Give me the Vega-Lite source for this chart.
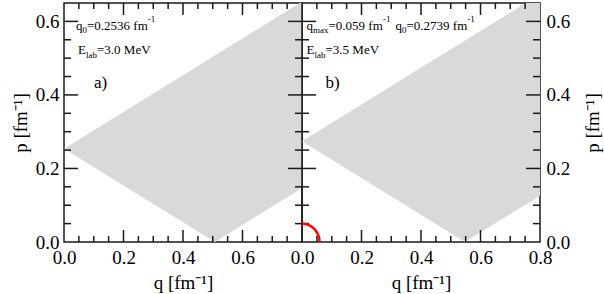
{
  "$schema": "https://vega.github.io/schema/vega-lite/v6.json",
  "background": "white",
  "padding": {"left": 10, "top": 1, "right": 2, "bottom": 2},
  "spacing": 0,
  "bounds": "flush",
  "config": {
    "view": {"stroke": "#1a1a1a", "strokeWidth": 1.5},
    "font": "Liberation Serif",
    "text": {"font": "Liberation Serif", "fontWeight": "normal", "color": "black"},
    "rule": {"color": "#1a1a1a", "strokeWidth": 1.5},
    "axis": {
      "grid": false, "domain": false, "labelFlush": false, "labelOverlap": false,
      "labelFont": "Liberation Serif", "labelFontSize": 19, "labelColor": "black",
      "titleFont": "Liberation Serif", "titleFontSize": 19, "titleFontWeight": "normal", "titleColor": "black",
      "tickColor": "#1a1a1a", "tickWidth": 1.5, "minExtent": 0
    }
  },
  "hconcat": [
    {
      "width": 238, "height": 239,
      "data": {"values": [
        {"q": 0, "hi": 0.2536, "lo": 0.2536},
        {"q": 0.5072, "hi": 0.5072, "lo": 0},
        {"q": 0.8, "hi": 0.6536, "lo": 0.1464}
      ]},
      "resolve": {"axis": {"x": "independent", "y": "independent"}},
      "layer": [
        {"mark": {"type": "area", "color": "#d9d9d9", "clip": true},
         "encoding": {
           "x": {"field": "q", "type": "quantitative", "scale": {"domain": [0, 0.8], "nice": false, "zero": false},
                 "axis": {"orient": "bottom", "values": [0, 0.2, 0.4, 0.6], "format": ".1f", "ticks": false, "tickSize": 0, "labelPadding": 6, "title": "q [fm⁻¹]", "titleFontWeight": "normal", "titlePadding": 6}},
           "y": {"field": "hi", "type": "quantitative", "scale": {"domain": [0, 0.65], "nice": false, "zero": false},
                 "axis": {"orient": "left", "values": [0, 0.2, 0.4, 0.6], "format": ".1f", "ticks": false, "tickSize": 0, "labelPadding": 5, "title": "p [fm⁻¹]", "titleFontWeight": "normal", "titlePadding": 5}},
           "y2": {"field": "lo"}
         }},
        {"data": {"values": [{"v": 0.2}, {"v": 0.4}, {"v": 0.6}]}, "mark": {"type": "rule"},
         "encoding": {"x": {"field": "v", "type": "quantitative", "axis": null}, "y": {"datum": 0, "type": "quantitative", "axis": null}, "y2": {"datum": 0.0326}}},
        {"data": {"values": [{"v": 0.05}, {"v": 0.1}, {"v": 0.15}, {"v": 0.25}, {"v": 0.3}, {"v": 0.35}, {"v": 0.45}, {"v": 0.5}, {"v": 0.55}, {"v": 0.65}, {"v": 0.7}, {"v": 0.75}]}, "mark": {"type": "rule"},
         "encoding": {"x": {"field": "v", "type": "quantitative", "axis": null}, "y": {"datum": 0, "type": "quantitative", "axis": null}, "y2": {"datum": 0.0163}}},
        {"data": {"values": [{"v": 0.2}, {"v": 0.4}, {"v": 0.6}]}, "mark": {"type": "rule"},
         "encoding": {"x": {"field": "v", "type": "quantitative", "axis": null}, "y": {"datum": 0.65, "type": "quantitative", "axis": null}, "y2": {"datum": 0.6174}}},
        {"data": {"values": [{"v": 0.05}, {"v": 0.1}, {"v": 0.15}, {"v": 0.25}, {"v": 0.3}, {"v": 0.35}, {"v": 0.45}, {"v": 0.5}, {"v": 0.55}, {"v": 0.65}, {"v": 0.7}, {"v": 0.75}]}, "mark": {"type": "rule"},
         "encoding": {"x": {"field": "v", "type": "quantitative", "axis": null}, "y": {"datum": 0.65, "type": "quantitative", "axis": null}, "y2": {"datum": 0.6337}}},
        {"data": {"values": [{"v": 0.2}, {"v": 0.4}, {"v": 0.6}]}, "mark": {"type": "rule"},
         "encoding": {"y": {"field": "v", "type": "quantitative", "axis": null}, "x": {"datum": 0, "type": "quantitative", "axis": null}, "x2": {"datum": 0.0471}}},
        {"data": {"values": [{"v": 0.05}, {"v": 0.1}, {"v": 0.15}, {"v": 0.25}, {"v": 0.3}, {"v": 0.35}, {"v": 0.45}, {"v": 0.5}, {"v": 0.55}]}, "mark": {"type": "rule"},
         "encoding": {"y": {"field": "v", "type": "quantitative", "axis": null}, "x": {"datum": 0, "type": "quantitative", "axis": null}, "x2": {"datum": 0.0235}}},
        {"data": {"values": [{"v": 0.2}, {"v": 0.4}, {"v": 0.6}]}, "mark": {"type": "rule"},
         "encoding": {"y": {"field": "v", "type": "quantitative", "axis": null}, "x": {"datum": 0.8, "type": "quantitative", "axis": null}, "x2": {"datum": 0.7529}}},
        {"data": {"values": [{"v": 0.05}, {"v": 0.1}, {"v": 0.15}, {"v": 0.25}, {"v": 0.3}, {"v": 0.35}, {"v": 0.45}, {"v": 0.5}, {"v": 0.55}]}, "mark": {"type": "rule"},
         "encoding": {"y": {"field": "v", "type": "quantitative", "axis": null}, "x": {"datum": 0.8, "type": "quantitative", "axis": null}, "x2": {"datum": 0.7765}}},
        {"data": {"values": [{}]}, "mark": {"type": "text", "text": "q", "fontSize": 13, "align": "left", "baseline": "alphabetic"},
         "encoding": {"x": {"datum": 0.0403, "type": "quantitative", "axis": null}, "y": {"datum": 0.5766, "type": "quantitative", "axis": null}}},
        {"data": {"values": [{}]}, "mark": {"type": "text", "text": "0", "fontSize": 9, "dy": 3, "align": "left", "baseline": "alphabetic"},
         "encoding": {"x": {"datum": 0.0622, "type": "quantitative", "axis": null}, "y": {"datum": 0.5766, "type": "quantitative", "axis": null}}},
        {"data": {"values": [{}]}, "mark": {"type": "text", "text": "=0.2536 fm", "fontSize": 13, "align": "left", "baseline": "alphabetic"},
         "encoding": {"x": {"datum": 0.0773, "type": "quantitative", "axis": null}, "y": {"datum": 0.5766, "type": "quantitative", "axis": null}}},
        {"data": {"values": [{}]}, "mark": {"type": "text", "text": "-1", "fontSize": 9, "dy": -8, "align": "left", "baseline": "alphabetic"},
         "encoding": {"x": {"datum": 0.2817, "type": "quantitative", "axis": null}, "y": {"datum": 0.5766, "type": "quantitative", "axis": null}}},
        {"data": {"values": [{}]}, "mark": {"type": "text", "text": "E", "fontSize": 13, "align": "left", "baseline": "alphabetic"},
         "encoding": {"x": {"datum": 0.0471, "type": "quantitative", "axis": null}, "y": {"datum": 0.512, "type": "quantitative", "axis": null}}},
        {"data": {"values": [{}]}, "mark": {"type": "text", "text": "lab", "fontSize": 9, "dy": 4, "align": "left", "baseline": "alphabetic"},
         "encoding": {"x": {"datum": 0.0739, "type": "quantitative", "axis": null}, "y": {"datum": 0.512, "type": "quantitative", "axis": null}}},
        {"data": {"values": [{}]}, "mark": {"type": "text", "text": "=3.0 MeV", "fontSize": 13, "align": "left", "baseline": "alphabetic"},
         "encoding": {"x": {"datum": 0.1109, "type": "quantitative", "axis": null}, "y": {"datum": 0.512, "type": "quantitative", "axis": null}}},
        {"data": {"values": [{}]}, "mark": {"type": "text", "text": "a)", "fontSize": 17, "align": "left", "baseline": "alphabetic"},
         "encoding": {"x": {"datum": 0.1008, "type": "quantitative", "axis": null}, "y": {"datum": 0.4188, "type": "quantitative", "axis": null}}}
      ]
    },
    {
      "width": 238, "height": 239,
      "data": {"values": [
        {"q": 0, "hi": 0.2739, "lo": 0.2739},
        {"q": 0.5478, "hi": 0.5478, "lo": 0},
        {"q": 0.8, "hi": 0.6739, "lo": 0.1261}
      ]},
      "resolve": {"axis": {"x": "independent", "y": "independent"}},
      "layer": [
        {"mark": {"type": "area", "color": "#d9d9d9", "clip": true},
         "encoding": {
           "x": {"field": "q", "type": "quantitative", "scale": {"domain": [0, 0.8], "nice": false, "zero": false},
                 "axis": {"orient": "bottom", "values": [0, 0.2, 0.4, 0.6, 0.8], "format": ".1f", "ticks": false, "tickSize": 0, "labelPadding": 6, "title": "q [fm⁻¹]", "titleFontWeight": "normal", "titlePadding": 6}},
           "y": {"field": "hi", "type": "quantitative", "scale": {"domain": [0, 0.65], "nice": false, "zero": false},
                 "axis": {"orient": "right", "values": [0, 0.2, 0.4, 0.6], "format": ".1f", "ticks": false, "tickSize": 0, "labelPadding": 6, "title": "p [fm⁻¹]", "titleFontWeight": "normal", "titleAngle": 270, "titleBaseline": "top", "titlePadding": 14}},
           "y2": {"field": "lo"}
         }},
        {"data": {"values": [{"v": 0.2}, {"v": 0.4}, {"v": 0.6}]}, "mark": {"type": "rule"},
         "encoding": {"x": {"field": "v", "type": "quantitative", "axis": null}, "y": {"datum": 0, "type": "quantitative", "axis": null}, "y2": {"datum": 0.0326}}},
        {"data": {"values": [{"v": 0.05}, {"v": 0.1}, {"v": 0.15}, {"v": 0.25}, {"v": 0.3}, {"v": 0.35}, {"v": 0.45}, {"v": 0.5}, {"v": 0.55}, {"v": 0.65}, {"v": 0.7}, {"v": 0.75}]}, "mark": {"type": "rule"},
         "encoding": {"x": {"field": "v", "type": "quantitative", "axis": null}, "y": {"datum": 0, "type": "quantitative", "axis": null}, "y2": {"datum": 0.0163}}},
        {"data": {"values": [{"v": 0.2}, {"v": 0.4}, {"v": 0.6}]}, "mark": {"type": "rule"},
         "encoding": {"x": {"field": "v", "type": "quantitative", "axis": null}, "y": {"datum": 0.65, "type": "quantitative", "axis": null}, "y2": {"datum": 0.6174}}},
        {"data": {"values": [{"v": 0.05}, {"v": 0.1}, {"v": 0.15}, {"v": 0.25}, {"v": 0.3}, {"v": 0.35}, {"v": 0.45}, {"v": 0.5}, {"v": 0.55}, {"v": 0.65}, {"v": 0.7}, {"v": 0.75}]}, "mark": {"type": "rule"},
         "encoding": {"x": {"field": "v", "type": "quantitative", "axis": null}, "y": {"datum": 0.65, "type": "quantitative", "axis": null}, "y2": {"datum": 0.6337}}},
        {"data": {"values": [{"v": 0.2}, {"v": 0.4}, {"v": 0.6}]}, "mark": {"type": "rule"},
         "encoding": {"y": {"field": "v", "type": "quantitative", "axis": null}, "x": {"datum": 0, "type": "quantitative", "axis": null}, "x2": {"datum": 0.0471}}},
        {"data": {"values": [{"v": 0.05}, {"v": 0.1}, {"v": 0.15}, {"v": 0.25}, {"v": 0.3}, {"v": 0.35}, {"v": 0.45}, {"v": 0.5}, {"v": 0.55}]}, "mark": {"type": "rule"},
         "encoding": {"y": {"field": "v", "type": "quantitative", "axis": null}, "x": {"datum": 0, "type": "quantitative", "axis": null}, "x2": {"datum": 0.0235}}},
        {"data": {"values": [{"v": 0.2}, {"v": 0.4}, {"v": 0.6}]}, "mark": {"type": "rule"},
         "encoding": {"y": {"field": "v", "type": "quantitative", "axis": null}, "x": {"datum": 0.8, "type": "quantitative", "axis": null}, "x2": {"datum": 0.7529}}},
        {"data": {"values": [{"v": 0.05}, {"v": 0.1}, {"v": 0.15}, {"v": 0.25}, {"v": 0.3}, {"v": 0.35}, {"v": 0.45}, {"v": 0.5}, {"v": 0.55}]}, "mark": {"type": "rule"},
         "encoding": {"y": {"field": "v", "type": "quantitative", "axis": null}, "x": {"datum": 0.8, "type": "quantitative", "axis": null}, "x2": {"datum": 0.7765}}},
        {"data": {"values": [
          {"q": 0, "p": 0.05}, {"q": 0.0103, "p": 0.0492}, {"q": 0.0202, "p": 0.047},
          {"q": 0.0295, "p": 0.0433}, {"q": 0.0379, "p": 0.0383}, {"q": 0.0452, "p": 0.0321},
          {"q": 0.0511, "p": 0.025}, {"q": 0.0554, "p": 0.0171}, {"q": 0.0581, "p": 0.0087}, {"q": 0.059, "p": 0}
         ]},
         "mark": {"type": "line", "color": "#ff0000", "strokeWidth": 2.5},
         "encoding": {
           "x": {"field": "q", "type": "quantitative", "axis": null},
           "y": {"field": "p", "type": "quantitative", "axis": null}
         }},
        {"data": {"values": [{}]}, "mark": {"type": "text", "text": "q", "fontSize": 13, "align": "left", "baseline": "alphabetic"},
         "encoding": {"x": {"datum": 0.0151, "type": "quantitative", "axis": null}, "y": {"datum": 0.5766, "type": "quantitative", "axis": null}}},
        {"data": {"values": [{}]}, "mark": {"type": "text", "text": "max", "fontSize": 9, "dy": 3, "align": "left", "baseline": "alphabetic"},
         "encoding": {"x": {"datum": 0.037, "type": "quantitative", "axis": null}, "y": {"datum": 0.5766, "type": "quantitative", "axis": null}}},
        {"data": {"values": [{}]}, "mark": {"type": "text", "text": "=0.059 fm", "fontSize": 13, "align": "left", "baseline": "alphabetic"},
         "encoding": {"x": {"datum": 0.0891, "type": "quantitative", "axis": null}, "y": {"datum": 0.5766, "type": "quantitative", "axis": null}}},
        {"data": {"values": [{}]}, "mark": {"type": "text", "text": "-1", "fontSize": 9, "dy": -8, "align": "left", "baseline": "alphabetic"},
         "encoding": {"x": {"datum": 0.2723, "type": "quantitative", "axis": null}, "y": {"datum": 0.5766, "type": "quantitative", "axis": null}}},
        {"data": {"values": [{}]}, "mark": {"type": "text", "text": "q", "fontSize": 13, "align": "left", "baseline": "alphabetic"},
         "encoding": {"x": {"datum": 0.3143, "type": "quantitative", "axis": null}, "y": {"datum": 0.5766, "type": "quantitative", "axis": null}}},
        {"data": {"values": [{}]}, "mark": {"type": "text", "text": "0", "fontSize": 9, "dy": 3, "align": "left", "baseline": "alphabetic"},
         "encoding": {"x": {"datum": 0.3361, "type": "quantitative", "axis": null}, "y": {"datum": 0.5766, "type": "quantitative", "axis": null}}},
        {"data": {"values": [{}]}, "mark": {"type": "text", "text": "=0.2739 fm", "fontSize": 13, "align": "left", "baseline": "alphabetic"},
         "encoding": {"x": {"datum": 0.3513, "type": "quantitative", "axis": null}, "y": {"datum": 0.5766, "type": "quantitative", "axis": null}}},
        {"data": {"values": [{}]}, "mark": {"type": "text", "text": "-1", "fontSize": 9, "dy": -8, "align": "left", "baseline": "alphabetic"},
         "encoding": {"x": {"datum": 0.5557, "type": "quantitative", "axis": null}, "y": {"datum": 0.5766, "type": "quantitative", "axis": null}}},
        {"data": {"values": [{}]}, "mark": {"type": "text", "text": "E", "fontSize": 13, "align": "left", "baseline": "alphabetic"},
         "encoding": {"x": {"datum": 0.0151, "type": "quantitative", "axis": null}, "y": {"datum": 0.512, "type": "quantitative", "axis": null}}},
        {"data": {"values": [{}]}, "mark": {"type": "text", "text": "lab", "fontSize": 9, "dy": 4, "align": "left", "baseline": "alphabetic"},
         "encoding": {"x": {"datum": 0.042, "type": "quantitative", "axis": null}, "y": {"datum": 0.512, "type": "quantitative", "axis": null}}},
        {"data": {"values": [{}]}, "mark": {"type": "text", "text": "=3.5 MeV", "fontSize": 13, "align": "left", "baseline": "alphabetic"},
         "encoding": {"x": {"datum": 0.079, "type": "quantitative", "axis": null}, "y": {"datum": 0.512, "type": "quantitative", "axis": null}}},
        {"data": {"values": [{}]}, "mark": {"type": "text", "text": "b)", "fontSize": 17, "align": "left", "baseline": "alphabetic"},
         "encoding": {"x": {"datum": 0.079, "type": "quantitative", "axis": null}, "y": {"datum": 0.4188, "type": "quantitative", "axis": null}}}
      ]
    }
  ]
}
